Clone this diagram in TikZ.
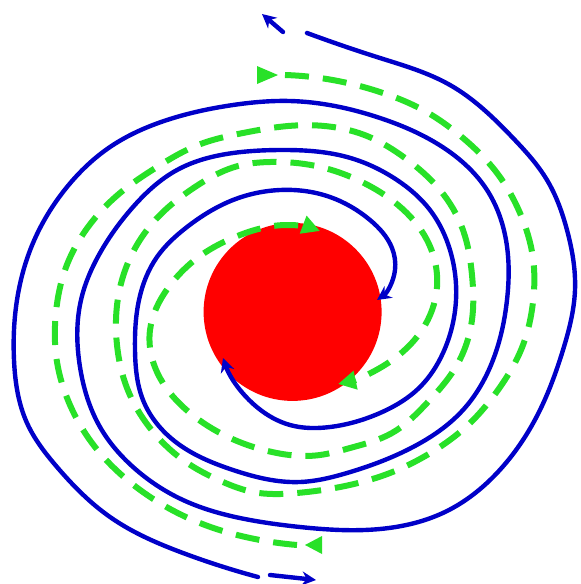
\documentclass[tikz,border=0pt]{standalone}
\usetikzlibrary{arrows.meta,hobby}
\definecolor{spblue}{RGB}{0,0,200}
\definecolor{spgreen}{RGB}{40,225,40}
\definecolor{spred}{RGB}{255,0,0}
\begin{document}
\begin{tikzpicture}[x=0.5pt,y=-0.5pt,
  bluespiral/.style={spblue, line width=2.2pt, line cap=round},
  greenspiral/.style={spgreen, line width=3pt, dash pattern=on 12pt off 7pt},
  bluetip/.style={-{Stealth[length=7pt,width=7pt]}},
  greentip/.style={-{Triangle[length=9pt,width=9pt]}},
  greenhead/.style={fill=spgreen}
]
\fill[white] (0,0) rectangle (581,584);
\useasboundingbox (0,0) rectangle (581,584);
% central disk
\node[circle, fill=spred, inner sep=0pt, minimum size=89pt] (disk) at (292.6,311.9) {};
% blue spiral 1
\draw[bluespiral, bluetip, use Hobby shortcut]
 (258,577) .. (183,553) .. (110,517) .. (57,467) .. (27,423) .. (14,360) .. (17,300) .. (33,243)
 .. (67,187) .. (110,147) .. (167,120) .. (233,105) .. (290,101) .. (380,118) .. (447,150) .. (487,190)
 .. (506,240) .. (507,300) .. (493,360) .. (463,410) .. (413,447) .. (347,473) .. (300,482) .. (233,470)
 .. (177,443) .. (143,400) .. (135,350) .. (139,300) .. (157,257) .. (187,227) .. (233,200) .. (280,190)
 .. (330,197) .. (370,220) .. (392,248) .. (395,270) .. (377,300);
\coordinate (b1s) at (270,575);
\coordinate (b1e) at (316,580);
\draw[bluespiral, bluetip] (b1s) -- (b1e);
% blue spiral 2
\draw[bluespiral, bluetip, use Hobby shortcut]
 (307,33) .. (380,58) .. (450,85) .. (513,138) .. (547,180) .. (567,230) .. (575,290) .. (563,350)
 .. (540,410) .. (497,473) .. (447,511) .. (380,529) .. (300,527) .. (250,520) .. (183,500) .. (133,467)
 .. (100,427) .. (80,367) .. (81,300) .. (100,253) .. (133,207) .. (177,170) .. (233,153) .. (280,150)
 .. (347,157) .. (397,180) .. (430,210) .. (450,250) .. (456,300) .. (443,353) .. (420,387) .. (380,413)
 .. (330,427) .. (290,425) .. (258,408) .. (223,358);
\coordinate (b2s) at (283,32);
\coordinate (b2e) at (262,14);
\draw[bluespiral, bluetip] (b2s) -- (b2e);
% green spiral 1 (from bottom, inward)
\fill[greenhead] (322,536) -- (322,554) -- (305,545) -- cycle;
\draw[greenspiral, greentip, use Hobby shortcut]
 (297,545) .. (250,538) .. (205,525) .. (163,505) .. (125,478) .. (92,443) .. (70,405)
 .. (57,362) .. (56,312) .. (65,270) .. (88,227) .. (120,193) .. (157,167) .. (198,145) .. (243,133)
 .. (288,126) .. (333,127) .. (367,136) .. (405,158) .. (440,190) .. (463,230) .. (472,275) .. (472,320)
 .. (457,365) .. (427,403) .. (392,433) .. (350,448) .. (320,455) .. (272,452) .. (228,437) .. (190,413)
 .. (160,378) .. (150,330) .. (168,288) .. (200,256) .. (240,235) .. (285,225) .. (320,231);
% green spiral 2 (from top, inward)
\fill[greenhead] (257,66) -- (257,84) -- (278,75) -- cycle;
\draw[greenspiral, greentip, use Hobby shortcut]
 (285,75) .. (338,81) .. (383,93) .. (423,110) .. (463,138) .. (497,173) .. (520,213)
 .. (533,258) .. (533,302) .. (523,345) .. (498,390) .. (468,425) .. (432,452) .. (390,473) .. (345,486)
 .. (297,493) .. (253,492) .. (223,482) .. (183,460) .. (150,428) .. (127,388) .. (117,345) .. (118,298)
 .. (133,252) .. (160,215) .. (195,187) .. (238,166) .. (270,162) .. (316,166) .. (362,182) .. (398,205)
 .. (427,240) .. (437,287) .. (422,330) .. (388,363) .. (338,384);
\end{tikzpicture}
\end{document}
